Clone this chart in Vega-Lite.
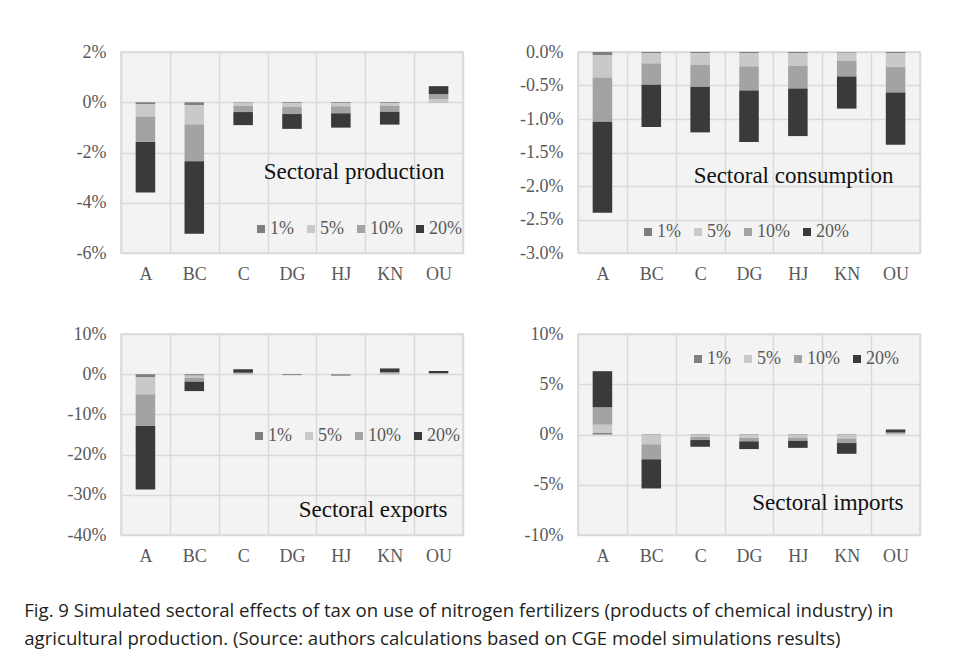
{
  "$schema": "https://vega.github.io/schema/vega-lite/v6.json",
  "padding": {"left": 24, "top": 42, "right": 5, "bottom": 5},
  "background": "white",
  "datasets": {
    "prod": [
      {"s":"A","c":"1%","k":1,"v":-0.08},{"s":"A","c":"5%","k":2,"v":-0.49},{"s":"A","c":"10%","k":3,"v":-1.01},{"s":"A","c":"20%","k":4,"v":-2.01},
      {"s":"BC","c":"1%","k":1,"v":-0.12},{"s":"BC","c":"5%","k":2,"v":-0.76},{"s":"BC","c":"10%","k":3,"v":-1.47},{"s":"BC","c":"20%","k":4,"v":-2.88},
      {"s":"C","c":"1%","k":1,"v":-0.02},{"s":"C","c":"5%","k":2,"v":-0.12},{"s":"C","c":"10%","k":3,"v":-0.25},{"s":"C","c":"20%","k":4,"v":-0.52},
      {"s":"DG","c":"1%","k":1,"v":-0.03},{"s":"DG","c":"5%","k":2,"v":-0.15},{"s":"DG","c":"10%","k":3,"v":-0.29},{"s":"DG","c":"20%","k":4,"v":-0.59},
      {"s":"HJ","c":"1%","k":1,"v":-0.03},{"s":"HJ","c":"5%","k":2,"v":-0.13},{"s":"HJ","c":"10%","k":3,"v":-0.28},{"s":"HJ","c":"20%","k":4,"v":-0.57},
      {"s":"KN","c":"1%","k":1,"v":-0.03},{"s":"KN","c":"5%","k":2,"v":-0.12},{"s":"KN","c":"10%","k":3,"v":-0.23},{"s":"KN","c":"20%","k":4,"v":-0.51},
      {"s":"OU","c":"1%","k":1,"v":0.02},{"s":"OU","c":"5%","k":2,"v":0.10},{"s":"OU","c":"10%","k":3,"v":0.20},{"s":"OU","c":"20%","k":4,"v":0.32}
    ],
    "cons": [
      {"s":"A","c":"1%","k":1,"v":-0.05},{"s":"A","c":"5%","k":2,"v":-0.33},{"s":"A","c":"10%","k":3,"v":-0.66},{"s":"A","c":"20%","k":4,"v":-1.36},
      {"s":"BC","c":"1%","k":1,"v":-0.015},{"s":"BC","c":"5%","k":2,"v":-0.155},{"s":"BC","c":"10%","k":3,"v":-0.32},{"s":"BC","c":"20%","k":4,"v":-0.63},
      {"s":"C","c":"1%","k":1,"v":-0.015},{"s":"C","c":"5%","k":2,"v":-0.175},{"s":"C","c":"10%","k":3,"v":-0.33},{"s":"C","c":"20%","k":4,"v":-0.68},
      {"s":"DG","c":"1%","k":1,"v":-0.015},{"s":"DG","c":"5%","k":2,"v":-0.2},{"s":"DG","c":"10%","k":3,"v":-0.36},{"s":"DG","c":"20%","k":4,"v":-0.77},
      {"s":"HJ","c":"1%","k":1,"v":-0.015},{"s":"HJ","c":"5%","k":2,"v":-0.19},{"s":"HJ","c":"10%","k":3,"v":-0.34},{"s":"HJ","c":"20%","k":4,"v":-0.71},
      {"s":"KN","c":"1%","k":1,"v":-0.01},{"s":"KN","c":"5%","k":2,"v":-0.12},{"s":"KN","c":"10%","k":3,"v":-0.235},{"s":"KN","c":"20%","k":4,"v":-0.48},
      {"s":"OU","c":"1%","k":1,"v":-0.015},{"s":"OU","c":"5%","k":2,"v":-0.21},{"s":"OU","c":"10%","k":3,"v":-0.38},{"s":"OU","c":"20%","k":4,"v":-0.78}
    ],
    "exp": [
      {"s":"A","c":"1%","k":1,"v":-0.8},{"s":"A","c":"5%","k":2,"v":-4.2},{"s":"A","c":"10%","k":3,"v":-7.9},{"s":"A","c":"20%","k":4,"v":-15.8},
      {"s":"BC","c":"1%","k":1,"v":-0.35},{"s":"BC","c":"5%","k":2,"v":-0.6},{"s":"BC","c":"10%","k":3,"v":-0.9},{"s":"BC","c":"20%","k":4,"v":-2.35},
      {"s":"C","c":"1%","k":1,"v":0.03},{"s":"C","c":"5%","k":2,"v":0.1},{"s":"C","c":"10%","k":3,"v":0.25},{"s":"C","c":"20%","k":4,"v":0.85},
      {"s":"DG","c":"1%","k":1,"v":-0.01},{"s":"DG","c":"5%","k":2,"v":-0.03},{"s":"DG","c":"10%","k":3,"v":-0.06},{"s":"DG","c":"20%","k":4,"v":-0.12},
      {"s":"HJ","c":"1%","k":1,"v":-0.01},{"s":"HJ","c":"5%","k":2,"v":-0.04},{"s":"HJ","c":"10%","k":3,"v":-0.08},{"s":"HJ","c":"20%","k":4,"v":-0.17},
      {"s":"KN","c":"1%","k":1,"v":0.03},{"s":"KN","c":"5%","k":2,"v":0.15},{"s":"KN","c":"10%","k":3,"v":0.3},{"s":"KN","c":"20%","k":4,"v":0.95},
      {"s":"OU","c":"1%","k":1,"v":0.02},{"s":"OU","c":"5%","k":2,"v":0.08},{"s":"OU","c":"10%","k":3,"v":0.2},{"s":"OU","c":"20%","k":4,"v":0.5}
    ],
    "imp": [
      {"s":"A","c":"1%","k":1,"v":0.15},{"s":"A","c":"5%","k":2,"v":0.83},{"s":"A","c":"10%","k":3,"v":1.73},{"s":"A","c":"20%","k":4,"v":3.59},
      {"s":"BC","c":"1%","k":1,"v":-0.07},{"s":"BC","c":"5%","k":2,"v":-0.9},{"s":"BC","c":"10%","k":3,"v":-1.5},{"s":"BC","c":"20%","k":4,"v":-2.9},
      {"s":"C","c":"1%","k":1,"v":-0.05},{"s":"C","c":"5%","k":2,"v":-0.2},{"s":"C","c":"10%","k":3,"v":-0.3},{"s":"C","c":"20%","k":4,"v":-0.67},
      {"s":"DG","c":"1%","k":1,"v":-0.05},{"s":"DG","c":"5%","k":2,"v":-0.3},{"s":"DG","c":"10%","k":3,"v":-0.33},{"s":"DG","c":"20%","k":4,"v":-0.77},
      {"s":"HJ","c":"1%","k":1,"v":-0.05},{"s":"HJ","c":"5%","k":2,"v":-0.25},{"s":"HJ","c":"10%","k":3,"v":-0.33},{"s":"HJ","c":"20%","k":4,"v":-0.7},
      {"s":"KN","c":"1%","k":1,"v":-0.05},{"s":"KN","c":"5%","k":2,"v":-0.35},{"s":"KN","c":"10%","k":3,"v":-0.45},{"s":"KN","c":"20%","k":4,"v":-1.07},
      {"s":"OU","c":"1%","k":1,"v":0.02},{"s":"OU","c":"5%","k":2,"v":0.06},{"s":"OU","c":"10%","k":3,"v":0.12},{"s":"OU","c":"20%","k":4,"v":0.3}
    ]
  },
  "title": {
    "text": ["Fig. 9 Simulated sectoral effects of tax on use of nitrogen fertilizers (products of chemical industry) in", "agricultural production. (Source: authors calculations based on CGE model simulations results)"],
    "orient": "bottom",
    "anchor": "start",
    "dx": -42,
    "offset": 36,
    "font": "Open Sans",
    "fontSize": 18.6,
    "fontWeight": "normal",
    "color": "#231f20",
    "lineHeight": 28
  },
  "config": {
    "font": "Liberation Serif",
    "view": {"fill": "#f3f3f3", "stroke": "#d9d9d9", "strokeWidth": 1.5},
    "axis": {
      "labelFont": "Liberation Serif",
      "labelFontSize": 18,
      "labelColor": "#595959",
      "labelOverlap": false,
      "domain": false,
      "ticks": false,
      "grid": true,
      "gridColor": "#d9d9d9",
      "gridWidth": 1.5,
      "title": null
    },
    "axisX": {"labelAngle": 0, "labelPadding": 12, "tickBand": "extent"},
    "axisY": {"labelPadding": 15, "tickCount": 20},
    "legend": {
      "direction": "horizontal",
      "orient": "none",
      "title": null,
      "padding": 0,
      "symbolType": "square",
      "symbolSize": 64,
      "symbolStrokeWidth": 0,
      "labelFont": "Liberation Serif",
      "labelFontSize": 18,
      "labelColor": "#595959",
      "labelOffset": 0,
      "columnPadding": 8
    }
  },
  "columns": 2,
  "bounds": "flush",
  "spacing": {"row": 81, "column": 115},
  "resolve": {"legend": {"color": "independent"}, "scale": {"color": "independent", "x": "independent", "y": "independent"}},
  "concat": [
    {
      "width": 342, "height": 201,
      "layer": [
        {
          "data": {"name": "prod"},
          "mark": {"type": "bar", "width": {"band": 0.4}},
          "encoding": {
            "x": {"field": "s", "type": "nominal", "sort": null, "scale": {"paddingInner": 0, "paddingOuter": 0}},
            "y": {"field": "v", "type": "quantitative", "stack": "zero", "scale": {"domain": [-6, 2], "nice": false}, "axis": {"values": [-6, -4, -2, 0, 2], "tickCount": 20, "labelExpr": "datum.value + '%'"}},
            "color": {"field": "c", "type": "nominal", "scale": {"domain": ["1%", "5%", "10%", "20%"], "range": ["#7f7f7f", "#c9c9c9", "#a3a3a3", "#3a3a3a"]}, "legend": {"legendX": 131, "legendY": 168}},
            "order": {"field": "k", "type": "quantitative"}
          }
        },
        {
          "data": {"values": [{}]},
          "mark": {"type": "text", "align": "right", "baseline": "alphabetic", "font": "Liberation Serif", "fontSize": 23, "color": "#111111", "dx": 6},
          "encoding": {"x": {"datum": "OU", "type": "nominal"}, "y": {"datum": -3.05, "type": "quantitative"}, "text": {"value": "Sectoral production"}}
        }
      ]
    },
    {
      "width": 342, "height": 201,
      "layer": [
        {
          "data": {"name": "cons"},
          "mark": {"type": "bar", "width": {"band": 0.4}},
          "encoding": {
            "x": {"field": "s", "type": "nominal", "sort": null, "scale": {"paddingInner": 0, "paddingOuter": 0}},
            "y": {"field": "v", "type": "quantitative", "stack": "zero", "scale": {"domain": [-3, 0], "nice": false}, "axis": {"values": [-3, -2.5, -2, -1.5, -1, -0.5, 0], "tickCount": 20, "labelExpr": "replace(format(datum.value, '.1f'), '\u2212', '-') + '%'"}},
            "color": {"field": "c", "type": "nominal", "scale": {"domain": ["1%", "5%", "10%", "20%"], "range": ["#7f7f7f", "#c9c9c9", "#a3a3a3", "#3a3a3a"]}, "legend": {"legendX": 61, "legendY": 171}},
            "order": {"field": "k", "type": "quantitative"}
          }
        },
        {
          "data": {"values": [{}]},
          "mark": {"type": "text", "align": "right", "baseline": "alphabetic", "font": "Liberation Serif", "fontSize": 23, "color": "#111111", "dx": -2},
          "encoding": {"x": {"datum": "OU", "type": "nominal"}, "y": {"datum": -1.95, "type": "quantitative"}, "text": {"value": "Sectoral consumption"}}
        }
      ]
    },
    {
      "width": 342, "height": 201,
      "layer": [
        {
          "data": {"name": "exp"},
          "mark": {"type": "bar", "width": {"band": 0.4}},
          "encoding": {
            "x": {"field": "s", "type": "nominal", "sort": null, "scale": {"paddingInner": 0, "paddingOuter": 0}},
            "y": {"field": "v", "type": "quantitative", "stack": "zero", "scale": {"domain": [-40, 10], "nice": false}, "axis": {"values": [-40, -30, -20, -10, 0, 10], "tickCount": 20, "labelExpr": "datum.value + '%'"}},
            "color": {"field": "c", "type": "nominal", "scale": {"domain": ["1%", "5%", "10%", "20%"], "range": ["#7f7f7f", "#c9c9c9", "#a3a3a3", "#3a3a3a"]}, "legend": {"legendX": 129, "legendY": 93}},
            "order": {"field": "k", "type": "quantitative"}
          }
        },
        {
          "data": {"values": [{}]},
          "mark": {"type": "text", "align": "right", "baseline": "alphabetic", "font": "Liberation Serif", "fontSize": 23, "color": "#111111", "dx": 9},
          "encoding": {"x": {"datum": "OU", "type": "nominal"}, "y": {"datum": -35.4, "type": "quantitative"}, "text": {"value": "Sectoral exports"}}
        }
      ]
    },
    {
      "width": 342, "height": 201,
      "layer": [
        {
          "data": {"name": "imp"},
          "mark": {"type": "bar", "width": {"band": 0.4}},
          "encoding": {
            "x": {"field": "s", "type": "nominal", "sort": null, "scale": {"paddingInner": 0, "paddingOuter": 0}},
            "y": {"field": "v", "type": "quantitative", "stack": "zero", "scale": {"domain": [-10, 10], "nice": false}, "axis": {"values": [-10, -5, 0, 5, 10], "tickCount": 20, "labelExpr": "datum.value + '%'"}},
            "color": {"field": "c", "type": "nominal", "scale": {"domain": ["1%", "5%", "10%", "20%"], "range": ["#7f7f7f", "#c9c9c9", "#a3a3a3", "#3a3a3a"]}, "legend": {"legendX": 111, "legendY": 16}},
            "order": {"field": "k", "type": "quantitative"}
          }
        },
        {
          "data": {"values": [{}]},
          "mark": {"type": "text", "align": "right", "baseline": "alphabetic", "font": "Liberation Serif", "fontSize": 23, "color": "#111111", "dx": 8},
          "encoding": {"x": {"datum": "OU", "type": "nominal"}, "y": {"datum": -7.47, "type": "quantitative"}, "text": {"value": "Sectoral imports"}}
        }
      ]
    }
  ]
}
